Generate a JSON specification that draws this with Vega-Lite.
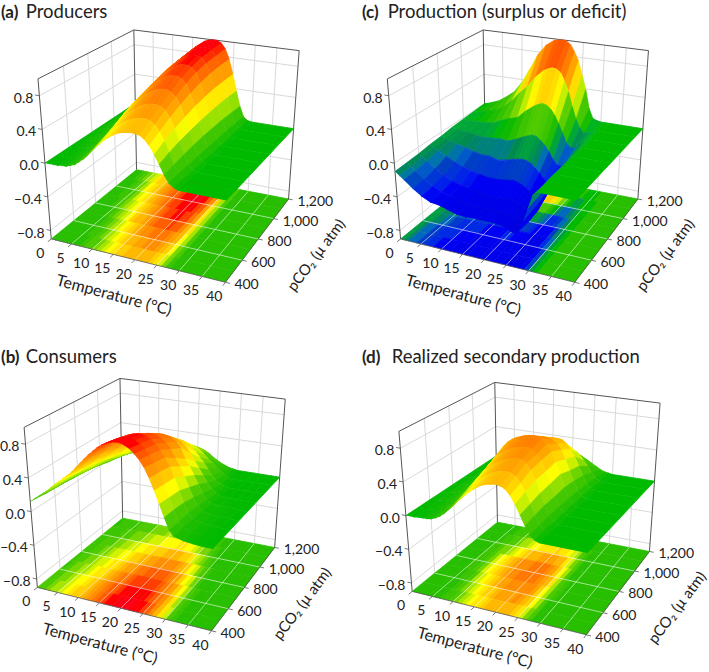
{"$schema":"https://vega.github.io/schema/vega-lite/v6.json","width":709,"height":672,"padding":0,"autosize":{"type":"fit","contains":"padding"},"background":"white","config":{"view":{"stroke":null},"font":"Lato"},
"datasets":{"grid":[
{"k":"a","t":0,"z4":0,"z5":0,"z6":0,"z7":0,"z8":0,"z9":0,"z10":0,"z11":0,"z12":0},{"k":"a","t":1,"z4":0,"z5":0,"z6":0,"z7":0,"z8":0.01,"z9":0.01,"z10":0.01,"z11":0.01,"z12":0.02},{"k":"a","t":2,"z4":0,"z5":0,"z6":0.01,"z7":0.01,"z8":0.02,"z9":0.02,"z10":0.03,"z11":0.04,"z12":0.05},{"k":"a","t":3,"z4":0,"z5":0,"z6":0.01,"z7":0.02,"z8":0.03,"z9":0.04,"z10":0.06,"z11":0.08,"z12":0.1},{"k":"a","t":4,"z4":0.01,"z5":0.01,"z6":0.02,"z7":0.03,"z8":0.05,"z9":0.07,"z10":0.1,"z11":0.13,"z12":0.17},{"k":"a","t":5,"z4":0.01,"z5":0.02,"z6":0.03,"z7":0.05,"z8":0.08,"z9":0.11,"z10":0.15,"z11":0.2,"z12":0.25},{"k":"a","t":6,"z4":0.03,"z5":0.04,"z6":0.05,"z7":0.09,"z8":0.13,"z9":0.17,"z10":0.22,"z11":0.27,"z12":0.33},{"k":"a","t":7,"z4":0.05,"z5":0.07,"z6":0.09,"z7":0.14,"z8":0.2,"z9":0.25,"z10":0.3,"z11":0.36,"z12":0.42},{"k":"a","t":8,"z4":0.09,"z5":0.12,"z6":0.15,"z7":0.21,"z8":0.28,"z9":0.33,"z10":0.38,"z11":0.43,"z12":0.48},{"k":"a","t":9,"z4":0.13,"z5":0.17,"z6":0.22,"z7":0.28,"z8":0.35,"z9":0.4,"z10":0.45,"z11":0.49,"z12":0.53},{"k":"a","t":10,"z4":0.18,"z5":0.23,"z6":0.28,"z7":0.35,"z8":0.42,"z9":0.47,"z10":0.52,"z11":0.55,"z12":0.58},{"k":"a","t":11,"z4":0.24,"z5":0.29,"z6":0.35,"z7":0.42,"z8":0.48,"z9":0.53,"z10":0.57,"z11":0.6,"z12":0.63},{"k":"a","t":12,"z4":0.3,"z5":0.35,"z6":0.41,"z7":0.48,"z8":0.54,"z9":0.59,"z10":0.63,"z11":0.66,"z12":0.68},{"k":"a","t":13,"z4":0.35,"z5":0.41,"z6":0.47,"z7":0.54,"z8":0.6,"z9":0.65,"z10":0.69,"z11":0.71,"z12":0.73},{"k":"a","t":14,"z4":0.4,"z5":0.46,"z6":0.52,"z7":0.59,"z8":0.66,"z9":0.71,"z10":0.75,"z11":0.77,"z12":0.78},{"k":"a","t":15,"z4":0.44,"z5":0.5,"z6":0.57,"z7":0.64,"z8":0.71,"z9":0.76,"z10":0.8,"z11":0.82,"z12":0.84},{"k":"a","t":16,"z4":0.48,"z5":0.54,"z6":0.61,"z7":0.69,"z8":0.76,"z9":0.81,"z10":0.85,"z11":0.87,"z12":0.89},{"k":"a","t":17,"z4":0.51,"z5":0.58,"z6":0.65,"z7":0.73,"z8":0.8,"z9":0.85,"z10":0.9,"z11":0.92,"z12":0.93},{"k":"a","t":18,"z4":0.53,"z5":0.6,"z6":0.68,"z7":0.76,"z8":0.84,"z9":0.89,"z10":0.93,"z11":0.95,"z12":0.97},{"k":"a","t":19,"z4":0.54,"z5":0.62,"z6":0.7,"z7":0.79,"z8":0.87,"z9":0.92,"z10":0.96,"z11":0.98,"z12":0.99},{"k":"a","t":20,"z4":0.55,"z5":0.63,"z6":0.71,"z7":0.8,"z8":0.88,"z9":0.93,"z10":0.97,"z11":0.99,"z12":1},{"k":"a","t":21,"z4":0.55,"z5":0.63,"z6":0.71,"z7":0.8,"z8":0.88,"z9":0.93,"z10":0.97,"z11":0.99,"z12":1},{"k":"a","t":22,"z4":0.54,"z5":0.62,"z6":0.7,"z7":0.78,"z8":0.86,"z9":0.91,"z10":0.95,"z11":0.96,"z12":0.97},{"k":"a","t":23,"z4":0.5,"z5":0.58,"z6":0.66,"z7":0.73,"z8":0.8,"z9":0.85,"z10":0.88,"z11":0.89,"z12":0.9},{"k":"a","t":24,"z4":0.44,"z5":0.51,"z6":0.58,"z7":0.64,"z8":0.69,"z9":0.73,"z10":0.76,"z11":0.77,"z12":0.77},{"k":"a","t":25,"z4":0.35,"z5":0.41,"z6":0.46,"z7":0.5,"z8":0.54,"z9":0.56,"z10":0.58,"z11":0.58,"z12":0.58},{"k":"a","t":26,"z4":0.25,"z5":0.29,"z6":0.32,"z7":0.34,"z8":0.36,"z9":0.37,"z10":0.38,"z11":0.38,"z12":0.37},{"k":"a","t":27,"z4":0.14,"z5":0.16,"z6":0.18,"z7":0.19,"z8":0.2,"z9":0.2,"z10":0.2,"z11":0.19,"z12":0.18},{"k":"a","t":28,"z4":0.06,"z5":0.07,"z6":0.07,"z7":0.07,"z8":0.07,"z9":0.07,"z10":0.07,"z11":0.06,"z12":0.05},{"k":"a","t":29,"z4":0.02,"z5":0.02,"z6":0.02,"z7":0.02,"z8":0.01,"z9":0.01,"z10":0.01,"z11":0.01,"z12":0.01},{"k":"a","t":30,"z4":0,"z5":0,"z6":0,"z7":0,"z8":0,"z9":0,"z10":0,"z11":0,"z12":0},{"k":"a","t":40,"z4":0,"z5":0,"z6":0,"z7":0,"z8":0,"z9":0,"z10":0,"z11":0,"z12":0},
{"k":"b","t":0,"z4":0.12,"z5":0.11,"z6":0.1,"z7":0.09,"z8":0.08,"z9":0.07,"z10":0.06,"z11":0.05,"z12":0.04},{"k":"b","t":1,"z4":0.16,"z5":0.14,"z6":0.13,"z7":0.12,"z8":0.11,"z9":0.09,"z10":0.08,"z11":0.06,"z12":0.05},{"k":"b","t":2,"z4":0.2,"z5":0.18,"z6":0.17,"z7":0.15,"z8":0.14,"z9":0.12,"z10":0.1,"z11":0.08,"z12":0.06},{"k":"b","t":3,"z4":0.24,"z5":0.22,"z6":0.21,"z7":0.19,"z8":0.17,"z9":0.14,"z10":0.12,"z11":0.09,"z12":0.07},{"k":"b","t":4,"z4":0.28,"z5":0.26,"z6":0.25,"z7":0.22,"z8":0.2,"z9":0.17,"z10":0.14,"z11":0.11,"z12":0.08},{"k":"b","t":5,"z4":0.33,"z5":0.31,"z6":0.29,"z7":0.26,"z8":0.23,"z9":0.19,"z10":0.16,"z11":0.12,"z12":0.09},{"k":"b","t":6,"z4":0.38,"z5":0.36,"z6":0.34,"z7":0.3,"z8":0.27,"z9":0.23,"z10":0.19,"z11":0.14,"z12":0.1},{"k":"b","t":7,"z4":0.42,"z5":0.4,"z6":0.38,"z7":0.34,"z8":0.31,"z9":0.26,"z10":0.22,"z11":0.16,"z12":0.11},{"k":"b","t":8,"z4":0.47,"z5":0.45,"z6":0.43,"z7":0.39,"z8":0.35,"z9":0.29,"z10":0.24,"z11":0.18,"z12":0.12},{"k":"b","t":9,"z4":0.51,"z5":0.49,"z6":0.47,"z7":0.43,"z8":0.38,"z9":0.32,"z10":0.26,"z11":0.19,"z12":0.13},{"k":"b","t":10,"z4":0.56,"z5":0.54,"z6":0.52,"z7":0.47,"z8":0.42,"z9":0.35,"z10":0.29,"z11":0.21,"z12":0.14},{"k":"b","t":11,"z4":0.62,"z5":0.6,"z6":0.57,"z7":0.52,"z8":0.46,"z9":0.39,"z10":0.32,"z11":0.23,"z12":0.15},{"k":"b","t":12,"z4":0.68,"z5":0.66,"z6":0.63,"z7":0.57,"z8":0.51,"z9":0.43,"z10":0.35,"z11":0.25,"z12":0.16},{"k":"b","t":13,"z4":0.74,"z5":0.71,"z6":0.68,"z7":0.62,"z8":0.55,"z9":0.46,"z10":0.37,"z11":0.27,"z12":0.17},{"k":"b","t":14,"z4":0.8,"z5":0.77,"z6":0.74,"z7":0.67,"z8":0.6,"z9":0.5,"z10":0.4,"z11":0.29,"z12":0.18},{"k":"b","t":15,"z4":0.85,"z5":0.82,"z6":0.79,"z7":0.72,"z8":0.64,"z9":0.53,"z10":0.42,"z11":0.3,"z12":0.19},{"k":"b","t":16,"z4":0.9,"z5":0.87,"z6":0.84,"z7":0.76,"z8":0.67,"z9":0.55,"z10":0.44,"z11":0.32,"z12":0.2},{"k":"b","t":17,"z4":0.94,"z5":0.91,"z6":0.87,"z7":0.79,"z8":0.7,"z9":0.58,"z10":0.46,"z11":0.33,"z12":0.21},{"k":"b","t":18,"z4":0.97,"z5":0.94,"z6":0.9,"z7":0.82,"z8":0.73,"z9":0.6,"z10":0.48,"z11":0.35,"z12":0.22},{"k":"b","t":19,"z4":0.99,"z5":0.96,"z6":0.92,"z7":0.84,"z8":0.75,"z9":0.62,"z10":0.49,"z11":0.35,"z12":0.22},{"k":"b","t":20,"z4":1,"z5":0.97,"z6":0.93,"z7":0.85,"z8":0.76,"z9":0.63,"z10":0.5,"z11":0.36,"z12":0.22},{"k":"b","t":21,"z4":1,"z5":0.97,"z6":0.93,"z7":0.85,"z8":0.76,"z9":0.63,"z10":0.5,"z11":0.35,"z12":0.21},{"k":"b","t":22,"z4":0.98,"z5":0.95,"z6":0.92,"z7":0.84,"z8":0.75,"z9":0.61,"z10":0.47,"z11":0.33,"z12":0.19},{"k":"b","t":23,"z4":0.95,"z5":0.92,"z6":0.89,"z7":0.81,"z8":0.73,"z9":0.58,"z10":0.43,"z11":0.3,"z12":0.16},{"k":"b","t":24,"z4":0.9,"z5":0.87,"z6":0.84,"z7":0.77,"z8":0.69,"z9":0.53,"z10":0.38,"z11":0.25,"z12":0.12},{"k":"b","t":25,"z4":0.84,"z5":0.81,"z6":0.78,"z7":0.7,"z8":0.62,"z9":0.47,"z10":0.32,"z11":0.2,"z12":0.09},{"k":"b","t":26,"z4":0.76,"z5":0.73,"z6":0.7,"z7":0.6,"z8":0.5,"z9":0.38,"z10":0.26,"z11":0.16,"z12":0.06},{"k":"b","t":27,"z4":0.65,"z5":0.63,"z6":0.6,"z7":0.51,"z8":0.42,"z9":0.3,"z10":0.19,"z11":0.11,"z12":0.04},{"k":"b","t":28,"z4":0.52,"z5":0.5,"z6":0.48,"z7":0.4,"z8":0.32,"z9":0.22,"z10":0.12,"z11":0.07,"z12":0.02},{"k":"b","t":29,"z4":0.38,"z5":0.36,"z6":0.34,"z7":0.28,"z8":0.22,"z9":0.14,"z10":0.07,"z11":0.04,"z12":0.01},{"k":"b","t":30,"z4":0.24,"z5":0.23,"z6":0.21,"z7":0.17,"z8":0.12,"z9":0.07,"z10":0.03,"z11":0.01,"z12":0},{"k":"b","t":31,"z4":0.11,"z5":0.1,"z6":0.1,"z7":0.08,"z8":0.05,"z9":0.03,"z10":0.01,"z11":0,"z12":0},{"k":"b","t":32,"z4":0.05,"z5":0.05,"z6":0.04,"z7":0.03,"z8":0.02,"z9":0.01,"z10":0,"z11":0,"z12":0},{"k":"b","t":34,"z4":0.02,"z5":0.02,"z6":0.02,"z7":0.01,"z8":0.01,"z9":0,"z10":0,"z11":0,"z12":0},{"k":"b","t":36,"z4":0.01,"z5":0.01,"z6":0.01,"z7":0.01,"z8":0.01,"z9":0,"z10":0,"z11":0,"z12":0},{"k":"b","t":38,"z4":0,"z5":0,"z6":0,"z7":0,"z8":0,"z9":0,"z10":0,"z11":0,"z12":0},{"k":"b","t":40,"z4":0,"z5":0,"z6":0,"z7":0,"z8":0,"z9":0,"z10":0,"z11":0,"z12":0},
{"k":"c","t":0,"z4":-0.1,"z5":-0.09,"z6":-0.08,"z7":-0.06,"z8":-0.05,"z9":-0.03,"z10":-0.02,"z11":-0.01,"z12":0},{"k":"c","t":1,"z4":-0.14,"z5":-0.13,"z6":-0.11,"z7":-0.09,"z8":-0.07,"z9":-0.05,"z10":-0.03,"z11":-0.01,"z12":0.01},{"k":"c","t":2,"z4":-0.18,"z5":-0.17,"z6":-0.15,"z7":-0.12,"z8":-0.09,"z9":-0.06,"z10":-0.03,"z11":0,"z12":0.03},{"k":"c","t":4,"z4":-0.26,"z5":-0.25,"z6":-0.22,"z7":-0.17,"z8":-0.11,"z9":-0.06,"z10":-0.02,"z11":0.03,"z12":0.07},{"k":"c","t":6,"z4":-0.33,"z5":-0.31,"z6":-0.28,"z7":-0.22,"z8":-0.14,"z9":-0.08,"z10":-0.02,"z11":0.06,"z12":0.14},{"k":"c","t":8,"z4":-0.38,"z5":-0.36,"z6":-0.33,"z7":-0.26,"z8":-0.17,"z9":-0.09,"z10":0,"z11":0.12,"z12":0.22},{"k":"c","t":10,"z4":-0.39,"z5":-0.38,"z6":-0.36,"z7":-0.29,"z8":-0.19,"z9":-0.08,"z10":0.05,"z11":0.21,"z12":0.36},{"k":"c","t":12,"z4":-0.42,"z5":-0.41,"z6":-0.38,"z7":-0.31,"z8":-0.19,"z9":-0.07,"z10":0.09,"z11":0.33,"z12":0.55},{"k":"c","t":14,"z4":-0.45,"z5":-0.44,"z6":-0.4,"z7":-0.33,"z8":-0.22,"z9":-0.08,"z10":0.12,"z11":0.43,"z12":0.76},{"k":"c","t":16,"z4":-0.46,"z5":-0.45,"z6":-0.41,"z7":-0.33,"z8":-0.2,"z9":-0.04,"z10":0.22,"z11":0.57,"z12":0.9},{"k":"c","t":18,"z4":-0.45,"z5":-0.44,"z6":-0.41,"z7":-0.32,"z8":-0.17,"z9":0.01,"z10":0.3,"z11":0.67,"z12":0.98},{"k":"c","t":19,"z4":-0.45,"z5":-0.44,"z6":-0.41,"z7":-0.31,"z8":-0.16,"z9":0.03,"z10":0.33,"z11":0.7,"z12":0.99},{"k":"c","t":20,"z4":-0.45,"z5":-0.44,"z6":-0.4,"z7":-0.3,"z8":-0.15,"z9":0.05,"z10":0.35,"z11":0.72,"z12":1},{"k":"c","t":21,"z4":-0.45,"z5":-0.44,"z6":-0.4,"z7":-0.31,"z8":-0.16,"z9":0.04,"z10":0.34,"z11":0.71,"z12":0.99},{"k":"c","t":22,"z4":-0.45,"z5":-0.44,"z6":-0.41,"z7":-0.33,"z8":-0.18,"z9":0,"z10":0.3,"z11":0.67,"z12":0.95},{"k":"c","t":23,"z4":-0.46,"z5":-0.45,"z6":-0.43,"z7":-0.36,"z8":-0.23,"z9":-0.05,"z10":0.23,"z11":0.57,"z12":0.86},{"k":"c","t":24,"z4":-0.46,"z5":-0.46,"z6":-0.44,"z7":-0.39,"z8":-0.28,"z9":-0.12,"z10":0.13,"z11":0.44,"z12":0.75},{"k":"c","t":25,"z4":-0.48,"z5":-0.48,"z6":-0.47,"z7":-0.43,"z8":-0.34,"z9":-0.21,"z10":0.02,"z11":0.26,"z12":0.57},{"k":"c","t":26,"z4":-0.5,"z5":-0.5,"z6":-0.5,"z7":-0.46,"z8":-0.38,"z9":-0.27,"z10":-0.1,"z11":0.1,"z12":0.39},{"k":"c","t":27,"z4":-0.52,"z5":-0.53,"z6":-0.52,"z7":-0.46,"z8":-0.37,"z9":-0.27,"z10":-0.15,"z11":0,"z12":0.15},{"k":"c","t":28,"z4":-0.47,"z5":-0.48,"z6":-0.46,"z7":-0.38,"z8":-0.3,"z9":-0.22,"z10":-0.14,"z11":-0.06,"z12":0.03},{"k":"c","t":29,"z4":-0.35,"z5":-0.33,"z6":-0.3,"z7":-0.25,"z8":-0.2,"z9":-0.15,"z10":-0.09,"z11":-0.04,"z12":0.01},{"k":"c","t":30,"z4":-0.2,"z5":-0.18,"z6":-0.16,"z7":-0.14,"z8":-0.11,"z9":-0.08,"z10":-0.05,"z11":-0.02,"z12":0},{"k":"c","t":31,"z4":-0.05,"z5":-0.05,"z6":-0.04,"z7":-0.04,"z8":-0.03,"z9":-0.02,"z10":-0.01,"z11":0,"z12":0},{"k":"c","t":32,"z4":0,"z5":0,"z6":0,"z7":0,"z8":0,"z9":0,"z10":0,"z11":0,"z12":0},{"k":"c","t":40,"z4":0,"z5":0,"z6":0,"z7":0,"z8":0,"z9":0,"z10":0,"z11":0,"z12":0},
{"k":"d","t":0,"z4":0,"z5":0,"z6":0,"z7":0,"z8":0,"z9":0,"z10":0,"z11":0,"z12":0},{"k":"d","t":2,"z4":0,"z5":0,"z6":0.01,"z7":0.01,"z8":0.01,"z9":0.01,"z10":0.01,"z11":0.01,"z12":0.01},{"k":"d","t":4,"z4":0.01,"z5":0.01,"z6":0.02,"z7":0.03,"z8":0.04,"z9":0.04,"z10":0.03,"z11":0.03,"z12":0.02},{"k":"d","t":5,"z4":0.01,"z5":0.02,"z6":0.03,"z7":0.04,"z8":0.06,"z9":0.06,"z10":0.05,"z11":0.04,"z12":0.03},{"k":"d","t":6,"z4":0.02,"z5":0.03,"z6":0.05,"z7":0.07,"z8":0.1,"z9":0.09,"z10":0.07,"z11":0.05,"z12":0.04},{"k":"d","t":7,"z4":0.04,"z5":0.06,"z6":0.08,"z7":0.11,"z8":0.15,"z9":0.13,"z10":0.1,"z11":0.07,"z12":0.05},{"k":"d","t":8,"z4":0.07,"z5":0.09,"z6":0.12,"z7":0.16,"z8":0.21,"z9":0.18,"z10":0.14,"z11":0.1,"z12":0.06},{"k":"d","t":9,"z4":0.11,"z5":0.14,"z6":0.18,"z7":0.23,"z8":0.29,"z9":0.24,"z10":0.18,"z11":0.12,"z12":0.07},{"k":"d","t":10,"z4":0.16,"z5":0.2,"z6":0.25,"z7":0.31,"z8":0.37,"z9":0.3,"z10":0.23,"z11":0.15,"z12":0.08},{"k":"d","t":11,"z4":0.21,"z5":0.26,"z6":0.32,"z7":0.38,"z8":0.45,"z9":0.37,"z10":0.28,"z11":0.18,"z12":0.09},{"k":"d","t":12,"z4":0.27,"z5":0.33,"z6":0.39,"z7":0.45,"z8":0.52,"z9":0.43,"z10":0.33,"z11":0.21,"z12":0.1},{"k":"d","t":13,"z4":0.32,"z5":0.38,"z6":0.45,"z7":0.52,"z8":0.6,"z9":0.49,"z10":0.38,"z11":0.25,"z12":0.12},{"k":"d","t":14,"z4":0.37,"z5":0.43,"z6":0.5,"z7":0.58,"z8":0.66,"z9":0.55,"z10":0.43,"z11":0.28,"z12":0.13},{"k":"d","t":15,"z4":0.42,"z5":0.48,"z6":0.55,"z7":0.62,"z8":0.7,"z9":0.59,"z10":0.47,"z11":0.3,"z12":0.14},{"k":"d","t":16,"z4":0.46,"z5":0.52,"z6":0.59,"z7":0.66,"z8":0.73,"z9":0.62,"z10":0.5,"z11":0.32,"z12":0.15},{"k":"d","t":17,"z4":0.5,"z5":0.56,"z6":0.62,"z7":0.68,"z8":0.75,"z9":0.64,"z10":0.53,"z11":0.34,"z12":0.16},{"k":"d","t":18,"z4":0.53,"z5":0.59,"z6":0.65,"z7":0.71,"z8":0.77,"z9":0.66,"z10":0.55,"z11":0.36,"z12":0.17},{"k":"d","t":19,"z4":0.55,"z5":0.61,"z6":0.67,"z7":0.72,"z8":0.78,"z9":0.68,"z10":0.57,"z11":0.37,"z12":0.18},{"k":"d","t":20,"z4":0.56,"z5":0.62,"z6":0.69,"z7":0.73,"z8":0.78,"z9":0.68,"z10":0.58,"z11":0.38,"z12":0.18},{"k":"d","t":21,"z4":0.57,"z5":0.63,"z6":0.7,"z7":0.74,"z8":0.78,"z9":0.68,"z10":0.58,"z11":0.38,"z12":0.18},{"k":"d","t":22,"z4":0.56,"z5":0.62,"z6":0.69,"z7":0.72,"z8":0.76,"z9":0.66,"z10":0.57,"z11":0.37,"z12":0.17},{"k":"d","t":23,"z4":0.53,"z5":0.59,"z6":0.65,"z7":0.67,"z8":0.7,"z9":0.62,"z10":0.53,"z11":0.34,"z12":0.15},{"k":"d","t":24,"z4":0.47,"z5":0.52,"z6":0.58,"z7":0.6,"z8":0.62,"z9":0.55,"z10":0.47,"z11":0.3,"z12":0.13},{"k":"d","t":25,"z4":0.38,"z5":0.43,"z6":0.47,"z7":0.48,"z8":0.5,"z9":0.44,"z10":0.38,"z11":0.24,"z12":0.1},{"k":"d","t":26,"z4":0.27,"z5":0.3,"z6":0.33,"z7":0.34,"z8":0.36,"z9":0.31,"z10":0.27,"z11":0.17,"z12":0.07},{"k":"d","t":27,"z4":0.16,"z5":0.18,"z6":0.2,"z7":0.2,"z8":0.21,"z9":0.19,"z10":0.16,"z11":0.1,"z12":0.04},{"k":"d","t":28,"z4":0.07,"z5":0.08,"z6":0.09,"z7":0.09,"z8":0.09,"z9":0.08,"z10":0.07,"z11":0.04,"z12":0.02},{"k":"d","t":29,"z4":0.02,"z5":0.03,"z6":0.03,"z7":0.03,"z8":0.03,"z9":0.03,"z10":0.02,"z11":0.01,"z12":0.01},{"k":"d","t":30,"z4":0,"z5":0,"z6":0,"z7":0,"z8":0,"z9":0,"z10":0,"z11":0,"z12":0},{"k":"d","t":40,"z4":0,"z5":0,"z6":0,"z7":0,"z8":0,"z9":0,"z10":0,"z11":0,"z12":0}
],
"titles":[{"k":"a","label":"(a)","b":1},{"k":"a","label":"Producers","b":0},{"k":"b","label":"(b)","b":1},{"k":"b","label":"Consumers","b":0},{"k":"c","label":"(c)","b":1},{"k":"c","label":"Production (surplus or deficit)","b":0},{"k":"d","label":"(d)","b":1},{"k":"d","label":"Realized secondary production","b":0}]},
"data":{"values":[
{"g":"w","t":5,"p":1200,"z":-0.9,"t2":5,"p2":1200,"z2":1},{"g":"w","t":10,"p":1200,"z":-0.9,"t2":10,"p2":1200,"z2":1},{"g":"w","t":15,"p":1200,"z":-0.9,"t2":15,"p2":1200,"z2":1},{"g":"w","t":20,"p":1200,"z":-0.9,"t2":20,"p2":1200,"z2":1},{"g":"w","t":25,"p":1200,"z":-0.9,"t2":25,"p2":1200,"z2":1},{"g":"w","t":30,"p":1200,"z":-0.9,"t2":30,"p2":1200,"z2":1},{"g":"w","t":35,"p":1200,"z":-0.9,"t2":35,"p2":1200,"z2":1},
{"g":"w","t":0,"p":1200,"z":-0.8,"t2":40,"p2":1200,"z2":-0.8},{"g":"w","t":0,"p":1200,"z":-0.4,"t2":40,"p2":1200,"z2":-0.4},{"g":"w","t":0,"p":1200,"z":0,"t2":40,"p2":1200,"z2":0},{"g":"w","t":0,"p":1200,"z":0.4,"t2":40,"p2":1200,"z2":0.4},{"g":"w","t":0,"p":1200,"z":0.8,"t2":40,"p2":1200,"z2":0.8},
{"g":"w","t":0,"p":600,"z":-0.9,"t2":0,"p2":600,"z2":1},{"g":"w","t":0,"p":800,"z":-0.9,"t2":0,"p2":800,"z2":1},{"g":"w","t":0,"p":1000,"z":-0.9,"t2":0,"p2":1000,"z2":1},
{"g":"w","t":0,"p":400,"z":-0.8,"t2":0,"p2":1200,"z2":-0.8},{"g":"w","t":0,"p":400,"z":-0.4,"t2":0,"p2":1200,"z2":-0.4},{"g":"w","t":0,"p":400,"z":0,"t2":0,"p2":1200,"z2":0},{"g":"w","t":0,"p":400,"z":0.4,"t2":0,"p2":1200,"z2":0.4},{"g":"w","t":0,"p":400,"z":0.8,"t2":0,"p2":1200,"z2":0.8},
{"g":"e","t":0,"p":400,"z":-0.9,"t2":0,"p2":400,"z2":1},{"g":"e","t":0,"p":1200,"z":-0.9,"t2":0,"p2":1200,"z2":1},{"g":"e","t":40,"p":1200,"z":-0.9,"t2":40,"p2":1200,"z2":1},{"g":"e","t":0,"p":400,"z":1,"t2":0,"p2":1200,"z2":1},{"g":"e","t":0,"p":1200,"z":1,"t2":40,"p2":1200,"z2":1},
{"g":"f","t":5,"p":400,"z":-0.9,"t2":5,"p2":1200,"z2":-0.9},{"g":"f","t":10,"p":400,"z":-0.9,"t2":10,"p2":1200,"z2":-0.9},{"g":"f","t":15,"p":400,"z":-0.9,"t2":15,"p2":1200,"z2":-0.9},{"g":"f","t":20,"p":400,"z":-0.9,"t2":20,"p2":1200,"z2":-0.9},{"g":"f","t":25,"p":400,"z":-0.9,"t2":25,"p2":1200,"z2":-0.9},{"g":"f","t":30,"p":400,"z":-0.9,"t2":30,"p2":1200,"z2":-0.9},{"g":"f","t":35,"p":400,"z":-0.9,"t2":35,"p2":1200,"z2":-0.9},
{"g":"f","t":0,"p":600,"z":-0.9,"t2":40,"p2":600,"z2":-0.9},{"g":"f","t":0,"p":800,"z":-0.9,"t2":40,"p2":800,"z2":-0.9},{"g":"f","t":0,"p":1000,"z":-0.9,"t2":40,"p2":1000,"z2":-0.9},
{"g":"m","t":0,"p":400,"z":-0.9,"t2":40,"p2":400,"z2":-0.9},{"g":"m","t":40,"p":400,"z":-0.9,"t2":40,"p2":1200,"z2":-0.9},
{"g":"m","t":0,"p":400,"z":-0.9,"t2":0,"p2":370,"z2":-0.9},{"g":"m","t":5,"p":400,"z":-0.9,"t2":5,"p2":370,"z2":-0.9},{"g":"m","t":10,"p":400,"z":-0.9,"t2":10,"p2":370,"z2":-0.9},{"g":"m","t":15,"p":400,"z":-0.9,"t2":15,"p2":370,"z2":-0.9},{"g":"m","t":20,"p":400,"z":-0.9,"t2":20,"p2":370,"z2":-0.9},{"g":"m","t":25,"p":400,"z":-0.9,"t2":25,"p2":370,"z2":-0.9},{"g":"m","t":30,"p":400,"z":-0.9,"t2":30,"p2":370,"z2":-0.9},{"g":"m","t":35,"p":400,"z":-0.9,"t2":35,"p2":370,"z2":-0.9},{"g":"m","t":40,"p":400,"z":-0.9,"t2":40,"p2":370,"z2":-0.9},
{"g":"m","t":40,"p":600,"z":-0.9,"t2":41,"p2":600,"z2":-0.9},{"g":"m","t":40,"p":800,"z":-0.9,"t2":41,"p2":800,"z2":-0.9},{"g":"m","t":40,"p":1000,"z":-0.9,"t2":41,"p2":1000,"z2":-0.9},{"g":"m","t":40,"p":1200,"z":-0.9,"t2":41,"p2":1200,"z2":-0.9},{"g":"m","t":40,"p":400,"z":-0.9,"t2":41,"p2":400,"z2":-0.9},
{"g":"m","t":0,"p":400,"z":-0.8,"t2":-1,"p2":400,"z2":-0.8},{"g":"m","t":0,"p":400,"z":-0.4,"t2":-1,"p2":400,"z2":-0.4},{"g":"m","t":0,"p":400,"z":0,"t2":-1,"p2":400,"z2":0},{"g":"m","t":0,"p":400,"z":0.4,"t2":-1,"p2":400,"z2":0.4},{"g":"m","t":0,"p":400,"z":0.8,"t2":-1,"p2":400,"z2":0.8},
{"g":"tt","t":0,"p":400,"z":-0.9,"label":"0"},{"g":"tt","t":5,"p":400,"z":-0.9,"label":"5"},{"g":"tt","t":10,"p":400,"z":-0.9,"label":"10"},{"g":"tt","t":15,"p":400,"z":-0.9,"label":"15"},{"g":"tt","t":20,"p":400,"z":-0.9,"label":"20"},{"g":"tt","t":25,"p":400,"z":-0.9,"label":"25"},{"g":"tt","t":30,"p":400,"z":-0.9,"label":"30"},{"g":"tt","t":35,"p":400,"z":-0.9,"label":"35"},{"g":"tt","t":40,"p":400,"z":-0.9,"label":"40"},
{"g":"tp","t":40,"p":400,"z":-0.9,"label":"400"},{"g":"tp","t":40,"p":600,"z":-0.9,"label":"600"},{"g":"tp","t":40,"p":800,"z":-0.9,"label":"800"},{"g":"tp","t":40,"p":1000,"z":-0.9,"label":"1,000"},{"g":"tp","t":40,"p":1200,"z":-0.9,"label":"1,200"},
{"g":"tz","t":0,"p":400,"z":-0.8,"label":"−0.8"},{"g":"tz","t":0,"p":400,"z":-0.4,"label":"−0.4"},{"g":"tz","t":0,"p":400,"z":0,"label":"0.0"},{"g":"tz","t":0,"p":400,"z":0.4,"label":"0.4"},{"g":"tz","t":0,"p":400,"z":0.8,"label":"0.8"},
{"g":"at","t":20,"p":400,"z":-0.9,"label":"Temperature (°C)"},{"g":"ap","t":40,"p":800,"z":-0.9,"label":"pCO₂ (µ atm)"}
]},
"transform":[{"calculate":"['a','b','c','d']","as":"k"},{"flatten":["k"]},
{"calculate":"datum.k=='b'?-14:datum.k=='c'?352.3:datum.k=='d'?364:0","as":"ox"},{"calculate":"datum.k=='b'?349:datum.k=='d'?353:0","as":"oy"},
{"calculate":"datum.t/40*(0.92+0.002*datum.t)","as":"u"},{"calculate":"(datum.p-400)/800*(1.08-0.08*(datum.p-400)/800)","as":"v"},{"calculate":"(datum.z+0.9)/1.9","as":"w"},
{"calculate":"datum.t2/40*(0.92+0.002*datum.t2)","as":"u2"},{"calculate":"(datum.p2-400)/800*(1.08-0.08*(datum.p2-400)/800)","as":"v2"},{"calculate":"(datum.z2+0.9)/1.9","as":"w2"},
{"calculate":"datum.ox+(1-datum.w)*(51.7+175.6*datum.u+86*datum.v-22.3*datum.u*datum.v)+datum.w*(38.3+190.7*datum.u+96.7*datum.v-24*datum.u*datum.v)","as":"x"},
{"calculate":"datum.oy+(1-datum.w)*(239.3+43.4*datum.u-69.3*datum.v-14.1*datum.u*datum.v)+datum.w*(79+31*datum.u-49*datum.v-10.3*datum.u*datum.v)","as":"y"},
{"calculate":"datum.ox+(1-datum.w2)*(51.7+175.6*datum.u2+86*datum.v2-22.3*datum.u2*datum.v2)+datum.w2*(38.3+190.7*datum.u2+96.7*datum.v2-24*datum.u2*datum.v2)","as":"x2"},
{"calculate":"datum.oy+(1-datum.w2)*(239.3+43.4*datum.u2-69.3*datum.v2-14.1*datum.u2*datum.v2)+datum.w2*(79+31*datum.u2-49*datum.v2-10.3*datum.u2*datum.v2)","as":"y2"}],
"encoding":{"x":{"field":"x","type":"quantitative","axis":null,"scale":{"domain":[0,709],"nice":false,"zero":false}},"y":{"field":"y","type":"quantitative","axis":null,"scale":{"domain":[0,672],"reverse":true,"nice":false,"zero":false}}},
"layer":[
{"transform":[{"filter":"datum.g=='w'"}],"mark":{"type":"rule","stroke":"#d9d9d9","strokeWidth":1},"encoding":{"x2":{"field":"x2"},"y2":{"field":"y2"}}},
{"transform":[{"filter":"datum.g=='e'"}],"mark":{"type":"rule","stroke":"#555555","strokeWidth":1},"encoding":{"x2":{"field":"x2"},"y2":{"field":"y2"}}},
{"data":{"name":"grid"},"transform":[{"fold":["z12","z11","z10","z9","z8","z7","z6","z5","z4"]},{"filter":"isValid(datum.value)"},
{"calculate":"toNumber(substring(datum.key,1))*100","as":"p"},{"calculate":"datum.k=='b'?-14:datum.k=='c'?352.3:datum.k=='d'?364:0","as":"ox"},{"calculate":"datum.k=='b'?349:datum.k=='d'?353:0","as":"oy"},
{"calculate":"datum.t/40*(0.92+0.002*datum.t)","as":"u"},{"calculate":"(datum.p-400)/800*(1.08-0.08*(datum.p-400)/800)","as":"v"},
{"calculate":"datum.ox+51.7+175.6*datum.u+86*datum.v-22.3*datum.u*datum.v","as":"px"},{"calculate":"datum.oy+239.3+43.4*datum.u-69.3*datum.v-14.1*datum.u*datum.v","as":"py"},
{"window":[{"op":"lead","field":"px","as":"x2"},{"op":"lead","field":"py","as":"y2"},{"op":"lead","field":"value","as":"z2"}],"groupby":["k","t"],"sort":[{"field":"p","order":"ascending"}]},
{"window":[{"op":"lead","field":"px","as":"nx"},{"op":"lead","field":"py","as":"ny"},{"op":"lead","field":"value","as":"nz"},{"op":"lead","field":"x2","as":"x3"},{"op":"lead","field":"y2","as":"y3"},{"op":"lead","field":"z2","as":"z3"}],"groupby":["k","p"],"sort":[{"field":"t","order":"ascending"}]},
{"filter":"isValid(datum.x2)&&isValid(datum.nx)"},
{"calculate":"floor((datum.value+datum.z2+datum.nz+datum.z3)/4/0.06)*0.06+0.06","as":"c"},{"calculate":"[0,1,2,3]","as":"vs"},{"flatten":["vs"]},
{"calculate":"datum.vs==0?datum.px:datum.vs==1?datum.x2:datum.vs==2?datum.x3:datum.nx","as":"vx"},{"calculate":"datum.vs==0?datum.py:datum.vs==1?datum.y2:datum.vs==2?datum.y3:datum.ny","as":"vy"},{"calculate":"datum.k+'_'+datum.t+'_'+datum.p","as":"cell"}],
"mark":{"type":"line","strokeWidth":0.8,"strokeJoin":"round"},"encoding":{"x":{"field":"vx","type":"quantitative"},"y":{"field":"vy","type":"quantitative"},"detail":{"field":"cell"},"order":{"field":"vs","type":"quantitative"},
"fill":{"field":"c","type":"quantitative","legend":null,"scale":{"domain":[-0.9,-0.35,-0.22,-0.1,0,0.2,0.42,0.65,0.95],"range":["#0000b0","#0000f5","#0040c0","#008a50","#00ba00","#50cc00","#ffff00","#ffa500","#ff0000"]}},
"stroke":{"field":"c","type":"quantitative","legend":null,"scale":{"domain":[-0.9,-0.35,-0.22,-0.1,0,0.2,0.42,0.65,0.95],"range":["#0000b0","#0000f5","#0040c0","#008a50","#00ba00","#50cc00","#ffff00","#ffa500","#ff0000"]}}}},
{"transform":[{"filter":"datum.g=='f'"}],"mark":{"type":"rule","stroke":"#ffffff","strokeOpacity":0.55,"strokeWidth":1},"encoding":{"x2":{"field":"x2"},"y2":{"field":"y2"}}},
{"data":{"name":"grid"},"transform":[{"fold":["z12","z11","z10","z9","z8","z7","z6","z5","z4"]},{"filter":"isValid(datum.value)"},
{"calculate":"toNumber(substring(datum.key,1))*100","as":"p"},{"calculate":"datum.k=='b'?-14:datum.k=='c'?352.3:datum.k=='d'?364:0","as":"ox"},{"calculate":"datum.k=='b'?349:datum.k=='d'?353:0","as":"oy"},
{"calculate":"datum.t/40*(0.92+0.002*datum.t)","as":"u"},{"calculate":"(datum.p-400)/800*(1.08-0.08*(datum.p-400)/800)","as":"v"},{"calculate":"(datum.value+0.9)/1.9","as":"w"},
{"calculate":"datum.ox+(1-datum.w)*(51.7+175.6*datum.u+86*datum.v-22.3*datum.u*datum.v)+datum.w*(38.3+190.7*datum.u+96.7*datum.v-24*datum.u*datum.v)","as":"px"},
{"calculate":"datum.oy+(1-datum.w)*(239.3+43.4*datum.u-69.3*datum.v-14.1*datum.u*datum.v)+datum.w*(79+31*datum.u-49*datum.v-10.3*datum.u*datum.v)","as":"py"},
{"window":[{"op":"lead","field":"px","as":"x2"},{"op":"lead","field":"py","as":"y2"},{"op":"lead","field":"value","as":"z2"}],"groupby":["k","t"],"sort":[{"field":"p","order":"ascending"}]},
{"window":[{"op":"lead","field":"px","as":"nx"},{"op":"lead","field":"py","as":"ny"},{"op":"lead","field":"value","as":"nz"},{"op":"lead","field":"x2","as":"x3"},{"op":"lead","field":"y2","as":"y3"},{"op":"lead","field":"z2","as":"z3"}],"groupby":["k","p"],"sort":[{"field":"t","order":"ascending"}]},
{"filter":"isValid(datum.x2)&&isValid(datum.nx)"},
{"calculate":"(datum.value+datum.z2+datum.nz+datum.z3)/4","as":"c"},{"calculate":"[0,1,2,3]","as":"vs"},{"flatten":["vs"]},
{"calculate":"datum.vs==0?datum.px:datum.vs==1?datum.x2:datum.vs==2?datum.x3:datum.nx","as":"vx"},{"calculate":"datum.vs==0?datum.py:datum.vs==1?datum.y2:datum.vs==2?datum.y3:datum.ny","as":"vy"},{"calculate":"datum.k+'_'+datum.t+'_'+datum.p","as":"cell"}],
"mark":{"type":"line","strokeWidth":0.8,"strokeJoin":"round"},"encoding":{"x":{"field":"vx","type":"quantitative"},"y":{"field":"vy","type":"quantitative"},"detail":{"field":"cell"},"order":{"field":"vs","type":"quantitative"},
"fill":{"field":"c","type":"quantitative","legend":null,"scale":{"domain":[-0.9,-0.35,-0.22,-0.1,0,0.2,0.42,0.65,0.95],"range":["#0000b0","#0000f5","#0040c0","#008a50","#00ba00","#50cc00","#ffff00","#ffa500","#ff0000"]}},
"stroke":{"field":"c","type":"quantitative","legend":null,"scale":{"domain":[-0.9,-0.35,-0.22,-0.1,0,0.2,0.42,0.65,0.95],"range":["#0000b0","#0000f5","#0040c0","#008a50","#00ba00","#50cc00","#ffff00","#ffa500","#ff0000"]}}}},
{"transform":[{"filter":"datum.g=='m'"}],"mark":{"type":"rule","stroke":"#555555","strokeWidth":0.8},"encoding":{"x2":{"field":"x2"},"y2":{"field":"y2"}}},
{"transform":[{"filter":"datum.g=='tt'"}],"mark":{"type":"text","fontSize":14,"fill":"#222222","dx":-11,"dy":15,"align":"center","baseline":"middle"},"encoding":{"text":{"field":"label"}}},
{"transform":[{"filter":"datum.g=='tp'"}],"mark":{"type":"text","fontSize":14,"fill":"#222222","dx":9,"dy":3,"align":"left","baseline":"middle"},"encoding":{"text":{"field":"label"}}},
{"transform":[{"filter":"datum.g=='tz'"}],"mark":{"type":"text","fontSize":14,"fill":"#222222","dx":-6,"dy":3,"align":"right","baseline":"middle"},"encoding":{"text":{"field":"label"}}},
{"transform":[{"filter":"datum.g=='at'"}],"mark":{"type":"text","fontSize":16,"fill":"#222222","dx":-11,"dy":40,"angle":15,"align":"center","baseline":"middle"},"encoding":{"text":{"field":"label"}}},
{"transform":[{"filter":"datum.g=='ap'"}],"mark":{"type":"text","fontSize":15,"fill":"#222222","dx":22,"dy":56,"angle":-53,"align":"center","baseline":"middle"},"encoding":{"text":{"field":"label"}}},
{"data":{"name":"titles"},"transform":[{"calculate":"datum.k=='a'?(datum.b?1:26):datum.k=='b'?(datum.b?1:26):datum.k=='c'?(datum.b?365:391):(datum.b?365:395)","as":"x"},{"calculate":"datum.k=='a'||datum.k=='c'?18:364","as":"y"},{"filter":"datum.b==1"}],"mark":{"type":"text","fontSize":17,"fontWeight":"bold","fill":"#222222","align":"left","baseline":"alphabetic"},"encoding":{"text":{"field":"label"}}},
{"data":{"name":"titles"},"transform":[{"calculate":"datum.k=='a'?(datum.b?1:26):datum.k=='b'?(datum.b?1:26):datum.k=='c'?(datum.b?365:391):(datum.b?365:395)","as":"x"},{"calculate":"datum.k=='a'||datum.k=='c'?18:364","as":"y"},{"filter":"datum.b==0"}],"mark":{"type":"text","fontSize":18.5,"fill":"#222222","align":"left","baseline":"alphabetic"},"encoding":{"text":{"field":"label"}}}
]}
